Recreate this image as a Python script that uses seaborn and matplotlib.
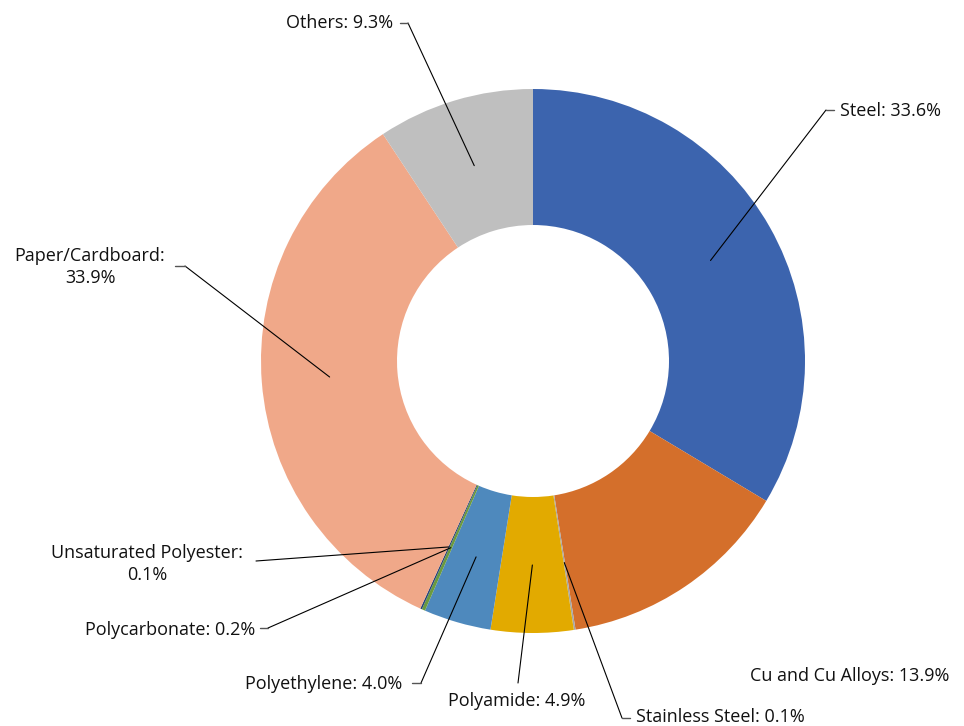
import numpy as np
import matplotlib
matplotlib.use("Agg")
import matplotlib.pyplot as plt
import seaborn as sns

sns.set_theme(style="white")
plt.rcParams['font.family'] = ['Open Sans', 'DejaVu Sans']

materials = ["Steel", "Cu and Cu Alloys", "Stainless Steel", "Polyamide",
             "Polyethylene", "Polycarbonate", "Unsaturated Polyester",
             "Paper/Cardboard", "Others"]
shares = [33.6, 13.9, 0.1, 4.9, 4.0, 0.2, 0.1, 33.9, 9.3]
label_text = ["Steel: 33.6%", "Cu and Cu Alloys: 13.9%", "Stainless Steel: 0.1%",
              "Polyamide: 4.9%", "Polyethylene: 4.0%", "Polycarbonate: 0.2%",
              "Unsaturated Polyester:\n0.1%", "Paper/Cardboard:\n33.9%", "Others: 9.3%"]
colors = ["#3C64AE", "#D46F2B", "#A5A5A5", "#E2AA00", "#4E89BD",
          "#6B9A3F", "#264478", "#F0A889", "#BFBFBF"]

W, H = 964, 726
cx, cy, R = 533, H - 361, 272

# label layout in pixels from top-left: text x, text y, ha, leader corner (or None), tick end
layout = [
    (840, 111, "left", (826, 110), (834, 110)),
    (750, 676, "left", None, None),
    (636, 717, "left", (622, 718), (630, 718)),
    (517, 701, "center", (518, 683), None),
    (402, 684, "right", (421, 683), (412, 683)),
    (255, 630, "right", (268, 628), (260, 628)),
    (147, 564, "center", (256, 561), None),
    (90, 267, "center", (185, 266), (175, 266)),
    (393, 23, "right", (408, 23), (400, 23)),
]

fig = plt.figure(figsize=(W / 100, H / 100), dpi=100)
ax = fig.add_axes([0, 0, 1, 1])

wedges, _ = ax.pie(shares, colors=sns.color_palette(colors), startangle=90,
                   counterclock=False, radius=R, center=(cx, cy),
                   wedgeprops=dict(width=R * 0.5, linewidth=0))
ax.set_xlim(0, W)
ax.set_ylim(0, H)
ax.set_aspect("equal")
ax.axis("off")

for w, txt, (tx, ty, ha, corner, tick) in zip(wedges, label_text, layout):
    ang = np.deg2rad((w.theta1 + w.theta2) / 2)
    px, py = cx + 0.75 * R * np.cos(ang), cy + 0.75 * R * np.sin(ang)
    if corner is not None:
        ax.plot([px, corner[0]], [py, H - corner[1]], color="black", lw=0.8)
        if tick is not None:
            ax.plot([corner[0], tick[0]], [H - corner[1], H - tick[1]], color="#555555", lw=1.0)
    ax.text(tx, H - ty, txt, ha=ha, va="center", fontsize=13, color="#111111",
            linespacing=1.35, multialignment="center")

fig.savefig("out.png", dpi=100, facecolor="white")
